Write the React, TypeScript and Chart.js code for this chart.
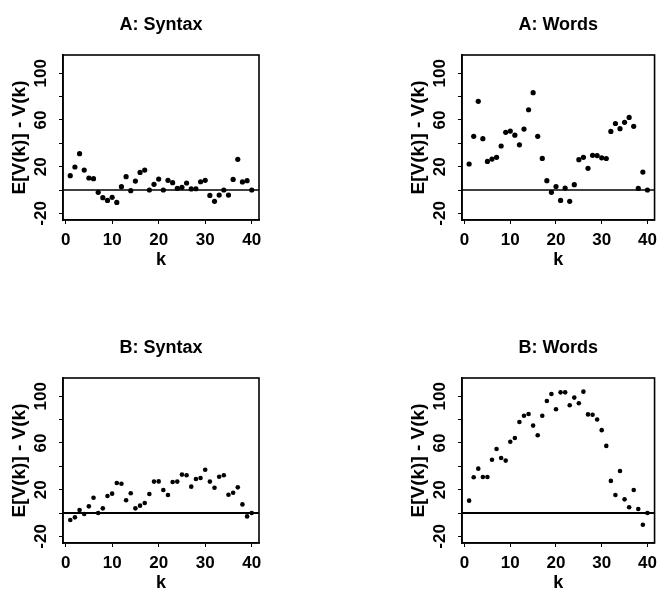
import React, { useEffect, useRef } from "react";
import { Chart, registerables } from "chart.js";

Chart.register(...registerables);

// ---------- data ----------
const K = [1, 2, 3, 4, 5, 6, 7, 8, 9, 10, 11, 12, 13, 14, 15, 16, 17, 18, 19, 20,
  21, 22, 23, 24, 25, 26, 27, 28, 29, 30, 31, 32, 33, 34, 35, 36, 37, 38, 39, 40];

const syntaxA = [12.3, 19.7, 31.1, 17.1, 10.3, 9.7, -2, -6.6, -8.9, -6.3,
  -10.6, 2.9, 11.4, -0.6, 7.7, 15.1, 17.1, 0, 4.9, 9.4,
  0, 8.3, 6.3, 1.4, 2.3, 6, 0.9, 1.1, 7.1, 8.3,
  -4.6, -9.7, -4.3, 0, -4.3, 9.1, 26.3, 6.9, 8, 0];

const wordsA = [22.3, 46, 76, 44, 24.5, 26.5, 28, 37.7, 49.4, 50.5,
  47, 38.7, 52.2, 68.8, 83.4, 46, 27.1, 8, -2, 3,
  -8.9, 1.7, -9.7, 4.6, 26, 28, 18.6, 29.7, 29.5, 27.6,
  27, 50.2, 57, 52.6, 58, 62.2, 54.6, 1.4, 15.4, 0];

const syntaxB = [-6, -3.7, 2.6, -0.9, 5.7, 13.1, 0, 4, 14.6, 16.6,
  25.7, 25.1, 10.9, 16.9, 4, 6.3, 8.6, 16.3, 26.9, 27.1,
  19.7, 15.4, 26.6, 26.9, 32.9, 32.3, 22.6, 29.1, 30, 37.1,
  26.9, 21.7, 31.1, 32.3, 15.7, 17.4, 22, 7.4, -2.9, 0];

const wordsB = [10.6, 30.6, 38, 30.9, 30.9, 45.7, 54.9, 47.1, 44.9, 61.1,
  64.3, 78, 83.4, 84.9, 74.9, 66.6, 83.4, 96, 102, 88.9,
  103.4, 103.4, 92.3, 98.9, 94, 104, 84.5, 84.2, 80.2, 71,
  57.5, 27.5, 15.4, 36, 11.7, 4.9, 19.7, 3.4, -10, 0];

const titles = ["A: Syntax", "A: Words", "B: Syntax", "B: Words"];
const xTicks = [0, 10, 20, 30, 40];
const yTickMarks = [-20, 0, 20, 40, 60, 80, 100];
const yTickLabels = [-20, 20, 60, 100];
const yTitle = "E[V(k)] - V(k)";
const xTitle = "k";

const X_MIN = -0.56;
const X_MAX = 41.56;
const Y_MIN = -25.7;
const Y_MAX = 115.7;

const FONT = '"Liberation Sans", Arial, Helvetica, sans-serif';

type PanelDef = {
  title: string;
  values: number[];
  row: number;
  col: number;
};

const panels: PanelDef[] = [
  { title: titles[0], values: syntaxA, row: 0, col: 0 },
  { title: titles[1], values: wordsA, row: 0, col: 1 },
  { title: titles[2], values: syntaxB, row: 1, col: 0 },
  { title: titles[3], values: wordsB, row: 1, col: 1 },
];

// geometry per column / row (canvas-relative)
const COLS = [
  { left: 0, width: 331, padLeft: 0, padRight: 72 },
  { left: 331, width: 332, padLeft: 68, padRight: 7 },
];
const ROWS = [
  { top: 0, height: 297, titleTop: 14.2, titleBottom: 19.2, xAxisH: 77, kPad: 26.2, dot: 2.6, zero: 1.5 },
  { top: 297, height: 298, titleTop: 40.2, titleBottom: 19.2, xAxisH: 52, kPad: 1.2, dot: 2.3, zero: 2.2 },
];

const frameAndLabels = {
  id: "frameAndLabels",
  afterDraw(chart: any) {
    const ctx = chart.ctx;
    const ca = chart.chartArea;
    const ys = chart.scales.y;
    ctx.save();
    ctx.strokeStyle = "#000";
    ctx.lineWidth = 1.6;
    ctx.strokeRect(ca.left, ca.top, ca.right - ca.left, ca.bottom - ca.top);
    ctx.fillStyle = "#000";
    ctx.font = `bold 17px ${FONT}`;
    ctx.textAlign = "center";
    ctx.textBaseline = "middle";
    for (const v of yTickLabels) {
      const py = ys.getPixelForValue(v);
      ctx.save();
      ctx.translate(ca.left - 22, py);
      ctx.rotate(-Math.PI / 2);
      ctx.fillText(String(v), 0, 0);
      ctx.restore();
    }
    ctx.restore();
  },
};

function Panel({ def }: { def: PanelDef }) {
  const ref = useRef<HTMLCanvasElement | null>(null);
  const col = COLS[def.col];
  const row = ROWS[def.row];

  useEffect(() => {
    if (!ref.current) return;
    const chart = new Chart(ref.current, {
      type: "scatter",
      data: {
        datasets: [
          {
            data: [
              { x: X_MIN, y: 0 },
              { x: X_MAX, y: 0 },
            ],
            showLine: true,
            borderColor: "#000",
            borderWidth: row.zero,
            pointRadius: 0,
            fill: false,
          },
          {
            data: K.map((k, i) => ({ x: k, y: def.values[i] })),
            backgroundColor: "#000",
            borderWidth: 0,
            pointRadius: row.dot,
            pointHoverRadius: row.dot,
          },
        ],
      },
      options: {
        animation: false,
        responsive: false,
        devicePixelRatio: 1,
        events: [],
        layout: {
          padding: { left: col.padLeft, right: col.padRight, top: 0, bottom: 0 },
        },
        plugins: {
          legend: { display: false },
          tooltip: { enabled: false },
          title: {
            display: true,
            fullSize: false,
            text: def.title,
            color: "#000",
            font: { family: FONT, size: 18, weight: "bold" },
            padding: { top: row.titleTop, bottom: row.titleBottom },
          },
        },
        scales: {
          x: {
            type: "linear",
            min: X_MIN,
            max: X_MAX,
            afterBuildTicks: (scale: any) => {
              scale.ticks = xTicks.map((v) => ({ value: v }));
            },
            afterFit: (scale: any) => {
              scale.height = row.xAxisH;
            },
            ticks: {
              color: "#000",
              font: { family: FONT, size: 17, weight: "bold" },
              padding: 5.8,
              maxRotation: 0,
              minRotation: 0,
              autoSkip: false,
              callback: (v: any) => String(v),
            },
            grid: {
              drawOnChartArea: false,
              drawTicks: true,
              tickLength: 4,
              color: "#000",
              lineWidth: 1,
            },
            border: { display: true, color: "#000", width: 1.6 },
            title: {
              display: true,
              text: xTitle,
              color: "#000",
              font: { family: FONT, size: 18, weight: "bold" },
              padding: { top: 0, bottom: row.kPad },
            },
          },
          y: {
            type: "linear",
            min: Y_MIN,
            max: Y_MAX,
            afterBuildTicks: (scale: any) => {
              scale.ticks = yTickMarks.map((v) => ({ value: v }));
            },
            afterFit: (scale: any) => {
              scale.width = 63;
            },
            ticks: { display: false },
            grid: {
              drawOnChartArea: false,
              drawTicks: true,
              tickLength: 4,
              color: "#000",
              lineWidth: 1,
            },
            border: { display: true, color: "#000", width: 1.6 },
            title: {
              display: true,
              text: yTitle,
              color: "#000",
              font: { family: FONT, size: 19, weight: "bold" },
              padding: { top: 8.6, bottom: 0 },
            },
          },
        },
      },
      plugins: [frameAndLabels],
    } as any);
    return () => chart.destroy();
  }, []);

  return (
    <canvas
      ref={ref}
      width={col.width}
      height={row.height}
      style={{
        position: "absolute",
        left: col.left,
        top: row.top,
        width: col.width,
        height: row.height,
      }}
    />
  );
}

export default function App() {
  return (
    <div
      style={{
        position: "absolute",
        left: 0,
        top: 0,
        width: 663,
        height: 595,
        background: "#fff",
        overflow: "hidden",
      }}
    >
      {panels.map((p) => (
        <Panel key={p.title} def={p} />
      ))}
    </div>
  );
}
